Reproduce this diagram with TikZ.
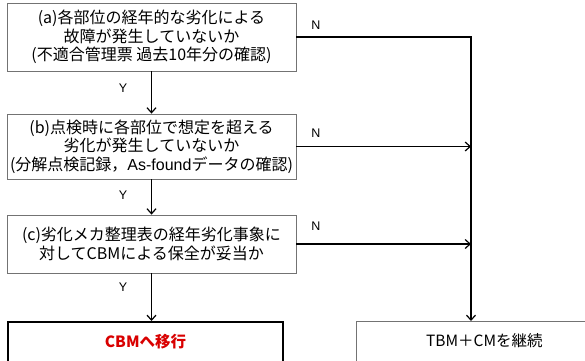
\documentclass[tikz,border=0pt]{standalone}
\usepackage{fontspec}
\setmainfont{Noto Sans CJK JP}
\newfontfamily\latfont{Liberation Sans}
\usetikzlibrary{arrows.meta}
\begin{document}
\begin{tikzpicture}[x=1pt,y=-1pt,
  qbox/.style={draw=black!55, line width=0.8pt, minimum width=289pt, align=center,
    font=\fontsize{16}{18.5}\selectfont, inner sep=0pt},
  conn/.style={line width=1.3pt, draw=black},
  arr/.style={conn, -{Straight Barb[length=5pt,width=9pt,line width=1.2pt]}},
  lbl/.style={font=\latfont\fontsize{12.5}{14}\selectfont, inner sep=0pt}]
\useasboundingbox (0,0) rectangle (585,360);
\fill[white] (0,0) rectangle (585,360);
\node[qbox, minimum height=68pt] (a) at (151.5,37)
  {(a)各部位の経年的な劣化による\\故障が発生していないか\\(不適合管理票 過去10年分の確認)};
\node[qbox, minimum height=65pt] (b) at (151.5,146.5)
  {(b)点検時に各部位で想定を超える\\劣化が発生していないか\\(分解点検記録，{\latfont As-found}データの確認)};
\node[qbox, minimum height=58pt] (c) at (151.5,244)
  {(c)劣化メカ整理表の経年劣化事象に\\対してCBMによる保全が妥当か};
\node[draw=black, line width=2pt, minimum width=275pt, anchor=north, inner xsep=0pt,
  inner ysep=7pt, text height=18.5pt, text depth=30pt, text=red!85!black,
  font=\fontsize{15.5}{18}\selectfont\bfseries] (cbm) at (145.5,321) {CBMへ移行};
\node[draw=black!55, line width=0.8pt, minimum width=256pt, anchor=north west, inner xsep=0pt,
  inner ysep=7pt, text height=18.5pt, text depth=30pt,
  font=\fontsize{15.5}{18}\selectfont] (tbm) at (356,321) {TBM＋CMを継続};
\coordinate (corner) at (471,37);
\draw[arr] (a.south) -- (b.north);
\draw[arr] (b.south) -- (c.north);
\draw[arr] (c.south) -- (c.south |- cbm.north);
\draw[arr] (a.east) -- (corner) -- (corner |- tbm.north);
\draw[arr] (b.east) -- (b.east -| corner);
\draw[arr] (c.east) -- (c.east -| corner);
\node[lbl] (y1) at (123,88) {Y};
\node[lbl] (y2) at (123,195) {Y};
\node[lbl] (y3) at (123,287) {Y};
\node[lbl] (n1) at (316,25) {N};
\node[lbl] (n2) at (316,133) {N};
\node[lbl] (n3) at (316,226) {N};
\end{tikzpicture}
\end{document}
